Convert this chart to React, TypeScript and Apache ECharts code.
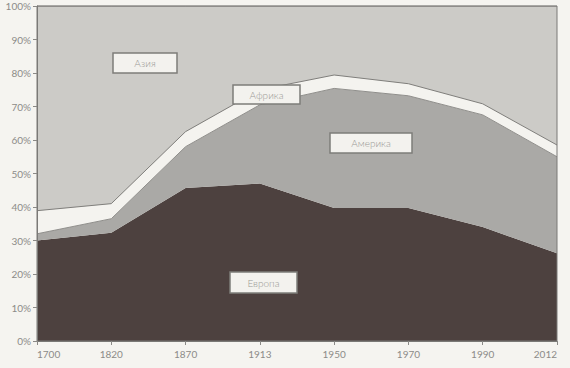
import React, { useEffect, useRef } from "react";
import * as echarts from "echarts";

const years = ["1700", "1820", "1870", "1913", "1950", "1970", "1990", "2012"];
const europe = [30, 32.3, 45.7, 47, 39.7, 39.7, 34, 26.2];
const america = [2, 4.2, 12.3, 23.5, 35.7, 33.5, 33.5, 28.8];
const africa = [6.9, 4.5, 4.5, 4.5, 4, 3.6, 3.3, 3.5];
const asia = [61.1, 59, 37.5, 25, 20.6, 23.2, 29.2, 41.5];

const labelColor = "#8c8b88";
const boxTextColor = "#9a9995";
const font = "Lato";

function box(x: number, y: number, w: number, h: number, text: string) {
  return {
    type: "group",
    x,
    y,
    z: 100,
    children: [
      {
        type: "rect",
        z: 100,
        shape: { x: 0, y: 0, width: w, height: h },
        style: { fill: "#f3f2ee", stroke: "#7e7d7a", lineWidth: 1.5 },
      },
      {
        type: "text",
        z: 101,
        x: w / 2,
        y: h / 2,
        style: {
          text,
          fill: boxTextColor,
          font: `300 10px ${font}`,
          align: "center",
          verticalAlign: "middle",
        },
      },
    ],
  };
}

export default function App() {
  const ref = useRef<HTMLDivElement>(null);
  useEffect(() => {
    if (!ref.current) return;
    const chart = echarts.init(ref.current, undefined, { renderer: "svg" });
    const areaSeries = (
      name: string,
      data: number[],
      fill: string,
      lineColor: string,
      lineWidth: number
    ) => ({
      name,
      type: "line",
      stack: "total",
      data,
      symbol: "none",
      lineStyle: { color: lineColor, width: lineWidth },
      areaStyle: { color: fill, opacity: 1 },
      z: 2,
    });
    chart.setOption({
      animation: false,
      backgroundColor: "#f5f4f0",
      grid: {
        left: 37,
        right: 13,
        top: 6,
        bottom: 27,
        show: true,
        borderColor: "#7a7976",
        borderWidth: 1,
        z: 3,
      },
      xAxis: {
        type: "category",
        data: years,
        boundaryGap: false,
        axisLine: { lineStyle: { color: "#7a7976", width: 1 } },
        axisTick: { show: true, length: 4, lineStyle: { color: "#8a8986" } },
        axisLabel: {
          color: labelColor,
          fontFamily: font,
          fontSize: 10,
          margin: 8,
          alignMinLabel: "left",
          alignMaxLabel: "right",
        },
        splitLine: { show: false },
        z: 5,
      },
      yAxis: {
        type: "value",
        min: 0,
        max: 100,
        interval: 10,
        axisLine: { show: true, lineStyle: { color: "#7a7976", width: 1 } },
        axisTick: { show: true, length: 4, lineStyle: { color: "#8a8986" } },
        axisLabel: {
          color: labelColor,
          fontFamily: font,
          fontSize: 10,
          margin: 6,
          formatter: "{value}%",
        },
        splitLine: { show: false },
        z: 5,
      },
      series: [
        areaSeries("Европа", europe, "#4d413f", "#4d413f", 0),
        areaSeries("Америка", america, "#aaa9a6", "#8f8e8b", 1),
        areaSeries("Африка", africa, "#f4f3ef", "#7f7e7b", 1),
        areaSeries("Азия", asia, "#cccbc7", "#7a7976", 1),
      ],
      graphic: [
        box(113, 53, 64, 20, "Азия"),
        box(233, 85, 67, 19, "Африка"),
        box(330, 133, 82, 20, "Америка"),
        box(230, 272, 67, 21, "Европа"),
      ],
    });
    return () => chart.dispose();
  }, []);
  return (
    <div
      ref={ref}
      style={{ position: "fixed", left: 0, top: 0, width: 570, height: 368 }}
    />
  );
}
